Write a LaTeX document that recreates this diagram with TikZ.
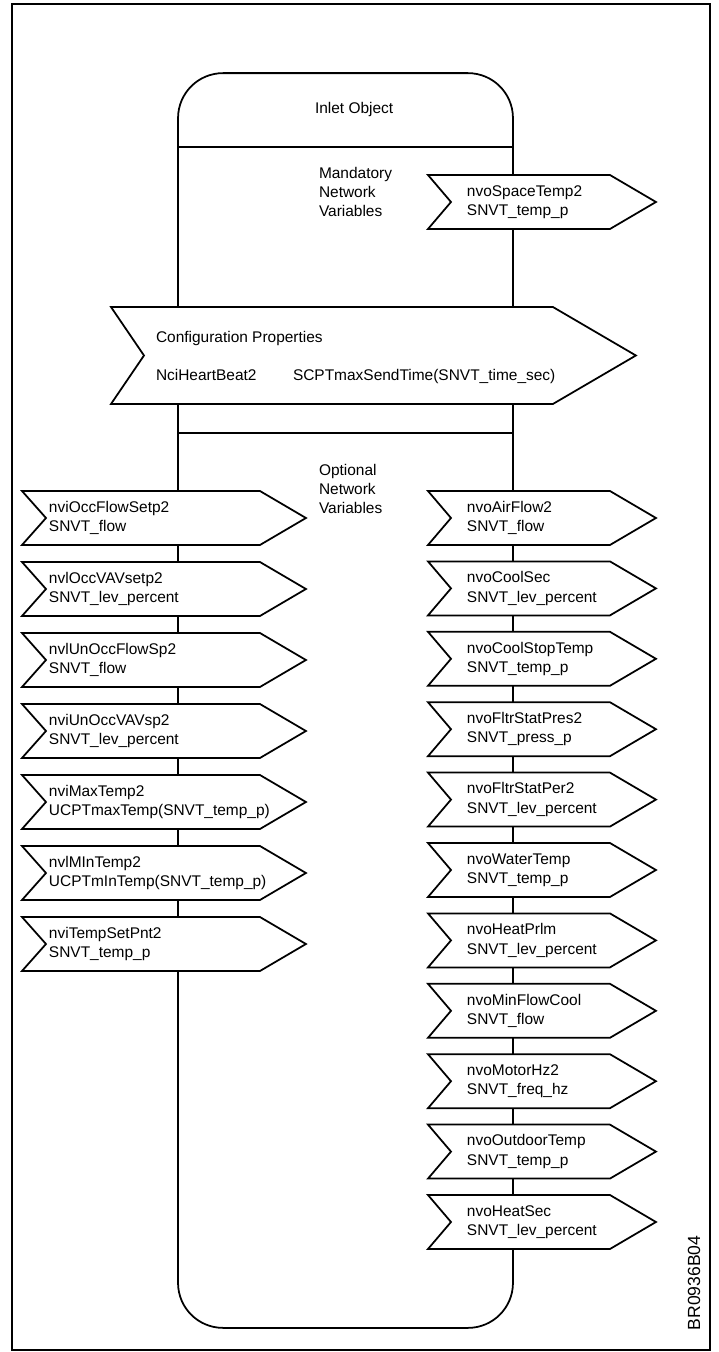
\documentclass[tikz,border=0pt]{standalone}
\usepackage{fontspec}
\setmainfont{Liberation Sans}

\begin{document}
\begin{tikzpicture}[
  x=0.02cm, y=-0.02cm,
  txt/.style={inner sep=0pt, outer sep=0pt, align=left, anchor=west, font=\fontsize{8.8}{11}\selectfont},
  holder/.style={rectangle, inner sep=0pt, outer sep=0pt, anchor=north west, minimum height=1.08cm},
  inbox/.style={holder, minimum width=4.76cm},
  outbox/.style={holder, minimum width=3.64cm},
  arrowline/.style={draw, fill=white, line width=1pt}
  ]
\def\tip{0.92cm}   % depth of the point
\def\lnotch{0.48cm}
\def\rnotch{0.46cm}
\useasboundingbox (0,0) rectangle (719,1352);
\draw[line width=0.8pt] (12,4) rectangle (710,1350);   % frame
\node[draw, line width=1pt, rounded corners=0.9cm, minimum width=6.7cm, minimum height=25.1cm,
      inner sep=0pt, outer sep=0pt] (inlet) at (345.5,700.5) {};   % object body
\node[txt] (title) at (315,110) {Inlet Object};
\coordinate (d1) at (0,147);
\coordinate (d2) at (0,433);
\draw[line width=1pt] (inlet.west |- d1) -- (inlet.east |- d1);
\draw[line width=1pt] (inlet.west |- d2) -- (inlet.east |- d2);
\node[txt] (mand) at (319,192) {Mandatory\\Network\\Variables};
\node[txt] (opt) at (319,489) {Optional\\Network\\Variables};
% mandatory output
\node[outbox] (space) at (428,175) {};
\draw[arrowline] (space.north west) -- (space.north east) -- ([xshift=\tip]space.east)
  -- (space.south east) -- (space.south west) -- ([xshift=\rnotch]space.west) -- cycle;
\node[txt] (space-t) at ([xshift=0.78cm]space.west) {nvoSpaceTemp2\\SNVT\_temp\_p};
% configuration properties
\node[holder, minimum width=8.84cm, minimum height=1.94cm] (cfg) at (111,307) {};
\draw[arrowline] (cfg.north west) -- (cfg.north east) -- ([xshift=1.66cm]cfg.east)
  -- (cfg.south east) -- (cfg.south west) -- ([xshift=0.66cm]cfg.west) -- cycle;
\node[txt, anchor=base west] (cfgtitle) at (156,342) {Configuration Properties};
\node[txt, anchor=base west] (cfgname) at (156,380) {NciHeartBeat2};
\node[txt, anchor=base west] (cfgtype) at (293,380) {SCPTmaxSendTime(SNVT\_time\_sec)};
% optional inputs
\foreach \la/\lb [count=\i from 0] in {nviOccFlowSetp2/SNVT\_flow, nvlOccVAVsetp2/SNVT\_lev\_percent,
    nvlUnOccFlowSp2/SNVT\_flow, nviUnOccVAVsp2/SNVT\_lev\_percent,
    nviMaxTemp2/UCPTmaxTemp(SNVT\_temp\_p), nvlMInTemp2/UCPTmInTemp(SNVT\_temp\_p),
    nviTempSetPnt2/SNVT\_temp\_p}{
  \node[inbox] (in\i) at (22,{491+71*\i}) {};
  \draw[arrowline] (in\i.north west) -- (in\i.north east) -- ([xshift=\tip]in\i.east)
    -- (in\i.south east) -- (in\i.south west) -- ([xshift=\lnotch]in\i.west) -- cycle;
  \node[txt] (in\i-t) at ([xshift=0.54cm]in\i.west) {\la\\\lb};
}
% optional outputs
\foreach \la/\lb [count=\i from 0] in {nvoAirFlow2/SNVT\_flow, nvoCoolSec/SNVT\_lev\_percent,
    nvoCoolStopTemp/SNVT\_temp\_p, nvoFltrStatPres2/SNVT\_press\_p,
    nvoFltrStatPer2/SNVT\_lev\_percent, nvoWaterTemp/SNVT\_temp\_p,
    nvoHeatPrlm/SNVT\_lev\_percent, nvoMinFlowCool/SNVT\_flow,
    nvoMotorHz2/SNVT\_freq\_hz, nvoOutdoorTemp/SNVT\_temp\_p,
    nvoHeatSec/SNVT\_lev\_percent}{
  \node[outbox] (out\i) at (428,{491+70.4*\i}) {};
  \draw[arrowline] (out\i.north west) -- (out\i.north east) -- ([xshift=\tip]out\i.east)
    -- (out\i.south east) -- (out\i.south west) -- ([xshift=\rnotch]out\i.west) -- cycle;
  \node[txt] (out\i-t) at ([xshift=0.78cm]out\i.west) {\la\\\lb};
}
\node[rotate=90, inner sep=0pt, font=\fontsize{10}{12}\selectfont] (drawno) at (694,1283) {BR0936B04};
\end{tikzpicture}
\end{document}
